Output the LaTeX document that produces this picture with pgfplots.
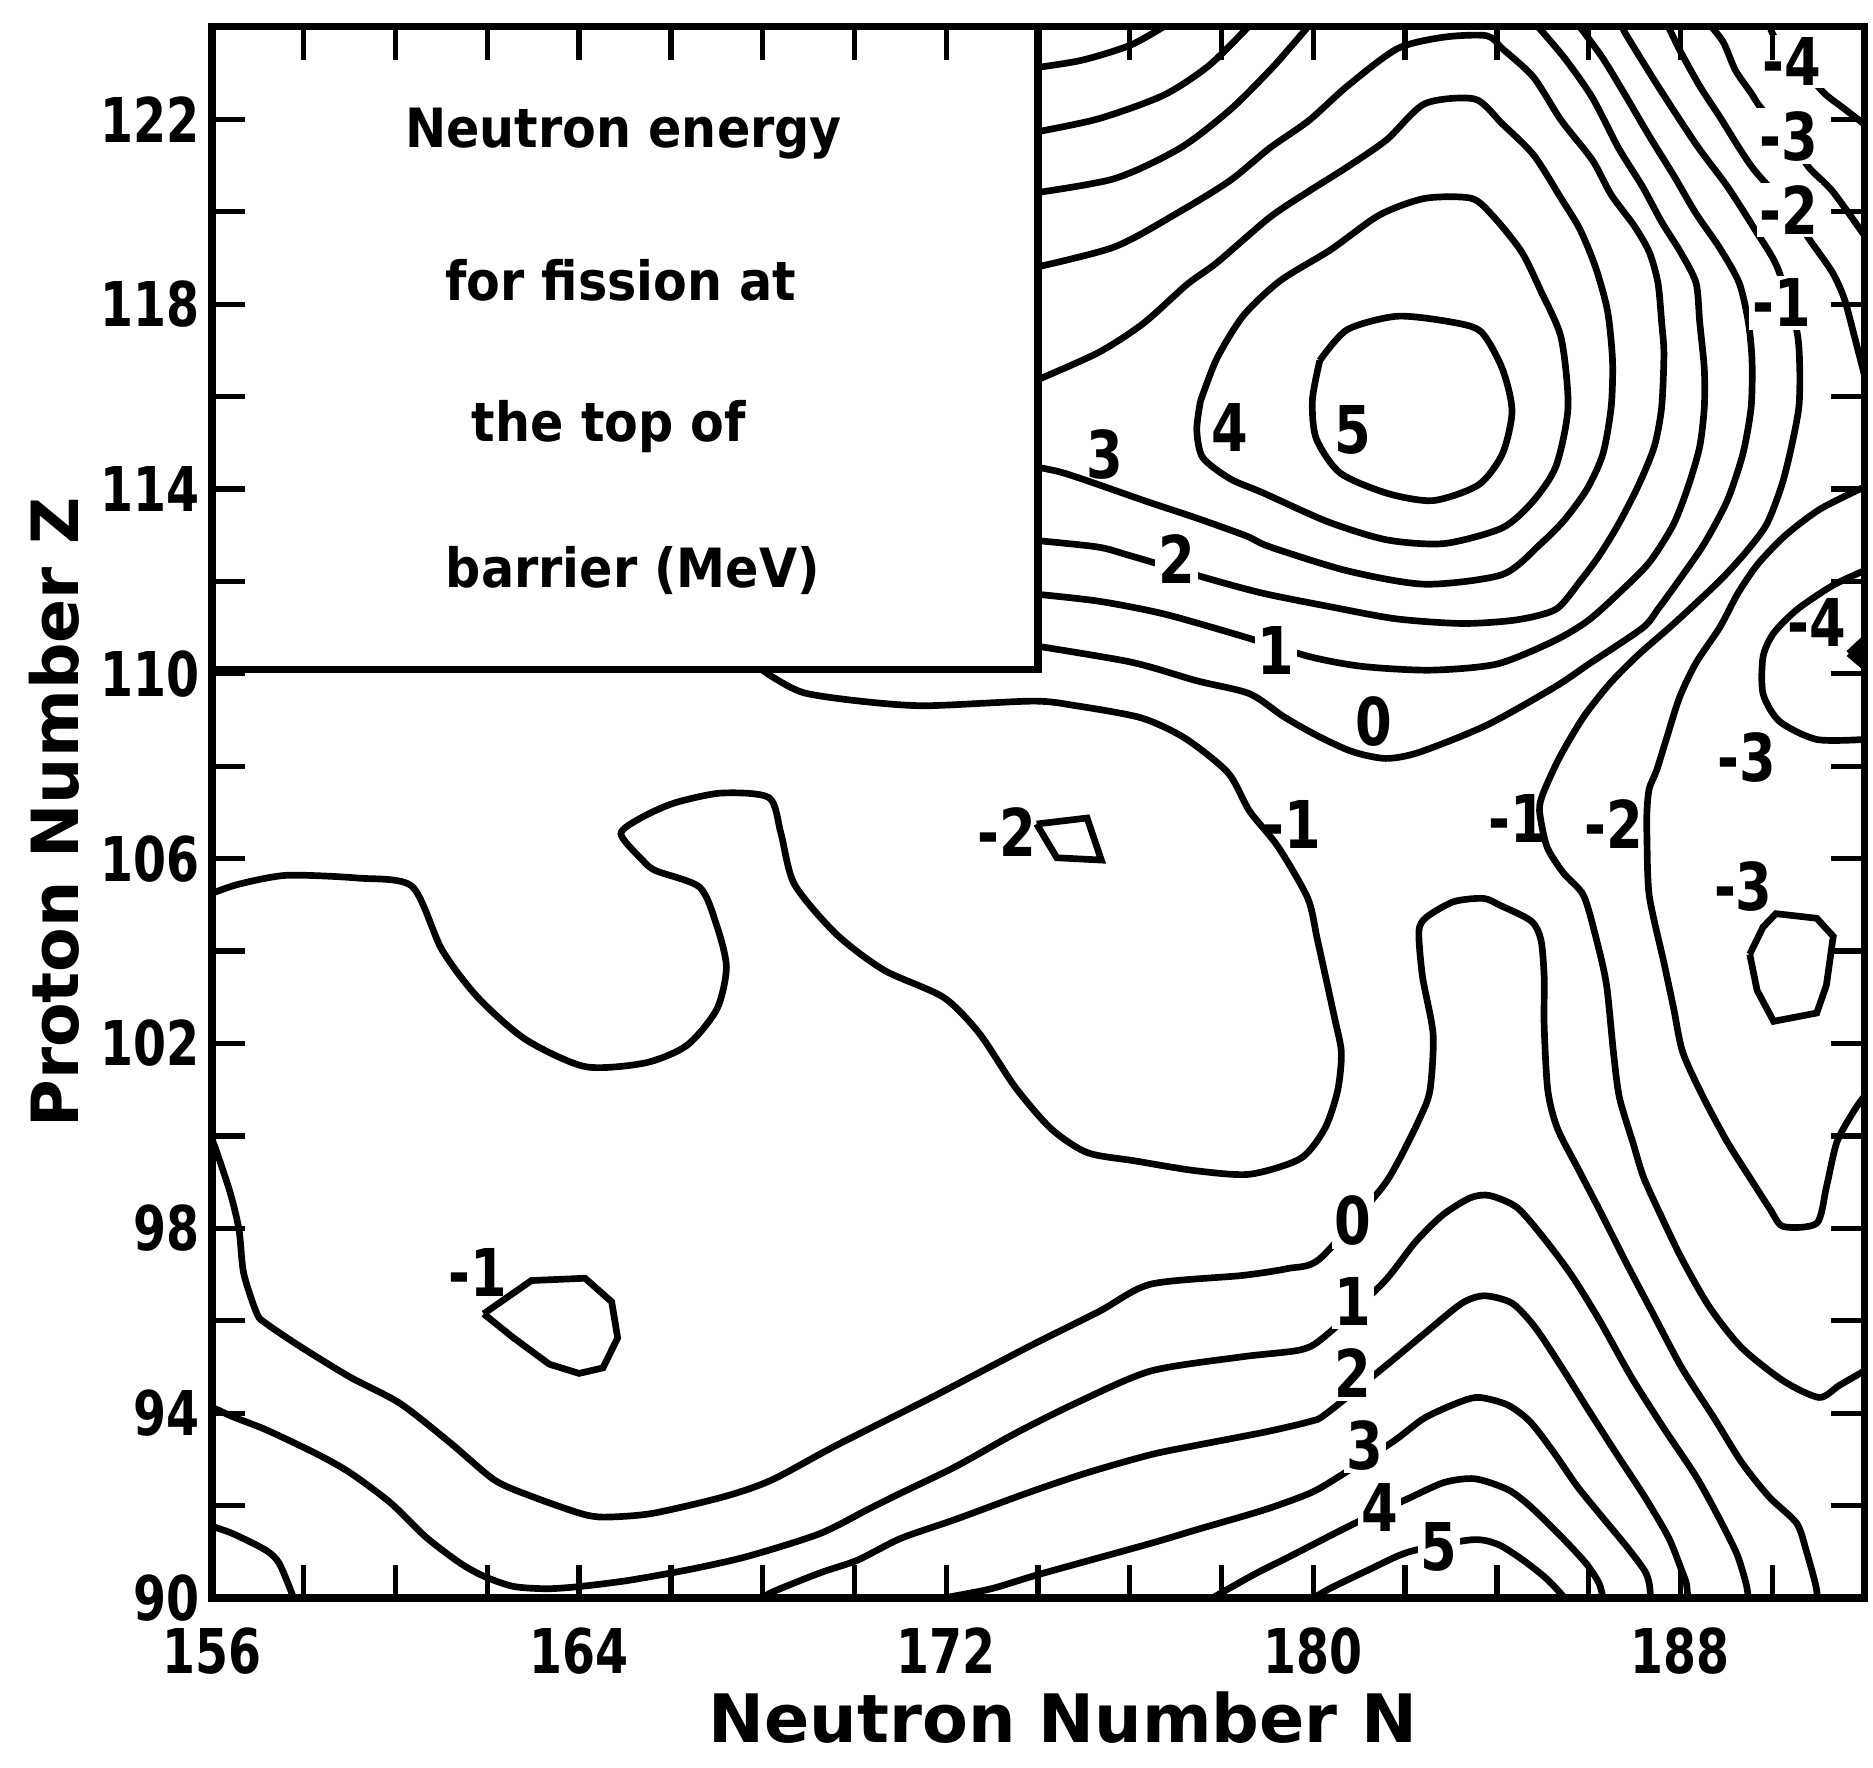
\documentclass[border=0pt]{standalone}
\usepackage{fontspec}
\setmainfont{DejaVu Sans}
\usepackage{graphicx}
\usepackage{pgfplots}
\pgfplotsset{compat=1.18}
\newcommand{\sy}[1]{\scalebox{1}[1.25]{#1}}
\newcommand{\boxscale}[1]{\scalebox{1}[1.1]{#1}}
\tikzset{
  cl/.style={line width=1.9pt, black, smooth, tension=0.45},
  cs/.style={line width=1.9pt, black, sharp plot},
  lab/.style={font=\bfseries\fontsize{15}{15}\selectfont, inner sep=0.8pt},
  labw/.style={lab, fill=white},
  boxt/.style={font=\bfseries\fontsize{14}{14}\selectfont},
}
\begin{document}
\begin{tikzpicture}
\begin{axis}[
  scale only axis, width=16.52cm, height=15.71cm,
  xmin=156, xmax=192, ymin=90, ymax=124,
  axis on top,
  axis line style={line width=2pt},
  xtick={156,164,172,180,188},
  minor xtick={158,160,162,166,168,170,174,176,178,182,184,186,190},
  ytick={90,94,...,122},
  minor ytick={92,96,...,120},
  major tick length=0.33cm, minor tick length=0.33cm,
  every tick/.style={line width=1.5pt, black},
  tick align=inside,
  xtick pos=both, ytick pos=both,
  xticklabel pos=lower, yticklabel pos=left,
  ticklabel style={font=\bfseries\fontsize{13.5}{13.5}\selectfont},
  xticklabel={\scalebox{1}[1.3]{\pgfmathprintnumber{\tick}}},
  yticklabel={\scalebox{1}[1.3]{\pgfmathprintnumber{\tick}}},
  xticklabel style={yshift=-0.17cm},
  /pgf/number format/assume math mode=true,
  xlabel={Neutron Number N},
  ylabel={Proton Number Z},
  xlabel style={font=\bfseries\fontsize{19}{19}\selectfont, at={(axis description cs:0.515,0)}, anchor=center, yshift=-1.2cm},
  ylabel style={font=\bfseries\fontsize{18.5}{18.5}\selectfont, at={(axis description cs:-0.0956,0.5)}, anchor=center},
]
% ---- peak family (top right) ----
\addplot[cl] coordinates {(180.14,116.78) (180.74,117.45) (181.83,117.74) (183.03,117.61) (183.66,117.40) (184.12,116.60) (184.33,115.69) (184.12,114.76) (183.60,114.09) (182.61,113.75) (181.60,113.91) (180.58,114.35) (180.06,115.10) (179.98,115.93) (180.14,116.78)};
\addplot[cl] coordinates {(177.54,115.90) (177.90,116.83) (178.48,117.76) (179.28,118.51) (180.38,119.18) (181.44,119.93) (182.43,120.29) (183.45,120.29) (183.94,119.88) (184.54,119.13) (184.96,118.28) (185.40,117.27) (185.55,115.77) (185.29,114.50) (184.80,113.75) (184.12,113.16) (182.85,112.82) (181.60,112.90) (180.32,113.29) (178.92,113.91) (178.19,114.22) (177.59,114.68) (177.46,115.28) (177.54,115.90)};
\addplot[cl] coordinates {(173.6,114.53) (174.55,114.35) (176.37,113.73) (177.46,113.37) (178.55,112.98) (179.05,112.75) (180.74,112.23) (182.43,111.94) (184.12,112.15) (184.96,112.82) (185.48,113.34) (185.97,114.01) (186.31,114.76) (186.49,115.77) (186.52,116.78) (186.41,117.86) (186.15,118.80) (185.81,119.62) (185.40,120.29) (184.80,121.23) (184.12,121.90) (183.52,122.44) (182.43,122.34) (181.60,121.56) (180.74,120.97) (179.91,120.45) (179.05,119.88) (177.90,118.90) (177.25,118.43) (176.29,117.58) (175.27,116.93) (173.6,116.2)};
\addplot[cl] coordinates {(173.6,112.92) (175.27,112.75) (176.00,112.56) (177.75,112.05) (178.92,111.74) (180.38,111.45) (181.81,111.19) (183.26,111.09) (184.44,111.17) (185.29,111.40) (185.81,112.00) (186.23,112.56) (186.65,113.24) (187.09,114.09) (187.43,114.92) (187.59,115.77) (187.64,116.93) (187.59,117.61) (187.51,118.46) (187.32,119.13) (186.99,119.70) (186.49,120.37) (186.08,121.12) (185.40,121.98) (184.80,122.91) (184.12,123.53) (183.78,123.81) (182.85,123.78) (181.83,123.53) (180.74,122.72) (179.91,121.98) (179.05,121.38) (178.19,120.68) (177.10,120.01) (175.64,119.23) (173.6,118.72)};
\addplot[cl] coordinates {(173.6,111.76) (175.27,111.58) (176.73,111.30) (178.40,110.83) (179.93,110.37) (181.08,110.16) (182.54,110.08) (183.99,110.21) (185.22,110.70) (185.97,111.14) (186.65,111.74) (187.32,112.41) (187.85,113.24) (188.18,114.09) (188.42,114.92) (188.52,115.77) (188.52,116.60) (188.42,117.61) (188.34,118.46) (188.00,119.13) (187.59,119.78) (187.17,120.55) (186.65,121.38) (186.08,122.47) (185.48,123.32) (184.90,124.0)};
\addplot[cl] coordinates {(173.6,120.36) (175.64,120.71) (177.10,121.38) (178.19,122.21) (179.05,123.06) (179.49,123.55) (179.88,124.0)};
\addplot[cl] coordinates {(173.6,110.66) (176.00,110.26) (177.46,109.85) (178.61,109.57) (179.36,109.07) (180.09,108.66) (180.84,108.32) (181.57,108.17) (182.30,108.30) (183.78,108.89) (185.27,109.72) (186.00,110.21) (187.17,110.99) (187.51,111.40) (188.00,112.07) (188.52,112.82) (189.02,113.75) (189.36,114.76) (189.54,115.77) (189.56,116.78) (189.48,117.61) (189.28,118.46) (188.86,119.21) (188.34,119.96) (187.85,120.79) (187.32,121.64) (186.83,122.47) (186.31,123.32) (185.81,124.0)};
\addplot[cl] coordinates {(173.6,121.66) (175.27,122.00) (176.73,122.52) (177.72,123.16) (178.58,124.0)};
\addplot[cl] coordinates {(173.6,123.07) (174.91,123.27) (176.00,123.60) (176.73,124.0)};
% ---- negative contours, right side ----
\addplot[cl] coordinates {(186.73,124.0) (186.83,123.81) (187.51,122.72) (188.34,121.46) (189.02,120.55) (189.62,119.62) (190.11,118.80) (190.53,117.45) (190.60,116.60) (190.58,115.77) (190.42,114.92) (190.21,114.09) (189.88,113.24) (189.43,112.64) (188.91,112.07) (188.34,111.53) (187.77,111.01) (187.09,110.42) (186.47,109.80) (185.89,109.07) (185.37,108.20) (185.01,107.42) (184.93,107.03) (185.09,106.26) (185.45,105.69) (185.89,105.20) (186.18,104.21) (186.39,103.26) (186.54,101.81) (186.67,100.83) (186.96,99.87) (187.19,99.12) (187.53,98.37) (188.03,97.34) (188.63,96.30) (189.33,95.42) (190.24,94.70) (191.02,94.34) (191.46,94.60) (192.0,94.91)};
\addplot[cl] coordinates {(187.74,124.0) (188.00,123.47) (188.42,122.72) (188.86,122.05) (189.28,121.38) (189.62,120.89) (190.37,120.04) (190.84,119.36) (191.31,118.69) (191.57,118.12) (191.80,117.27) (192.0,116.5)};
\addplot[cl] coordinates {(188.68,124.0) (188.94,123.66) (189.20,123.06) (189.54,122.57) (189.77,122.23) (190.37,121.64) (190.79,120.97) (191.31,120.45) (192.0,119.5)};
\addplot[cl] coordinates {(189.95,124.0) (190.03,123.81) (190.21,123.55) (190.63,123.14) (191.13,122.57) (191.57,122.23) (192.0,121.9)};
\addplot[cl] coordinates {(192.0,114.04) (191.05,113.57) (190.29,113.00) (189.69,112.38) (189.25,111.74) (188.86,111.01) (188.34,110.24) (187.98,109.49) (187.69,108.58) (187.48,107.91) (187.32,107.52) (187.27,107.03) (187.27,106.46) (187.32,105.20) (187.64,103.75) (187.85,102.77) (188.05,101.81) (188.50,100.83) (189.02,99.87) (189.51,99.10) (189.95,98.42) (190.24,98.04) (190.97,98.11) (191.18,98.89) (191.41,99.87) (191.78,100.54) (192.0,100.85)};
\addplot[cl] coordinates {(192.0,112.23) (191.33,111.92) (190.55,111.40) (190.03,110.88) (189.80,110.37) (189.80,109.57) (190.16,108.97) (190.97,108.58) (192.0,108.58)};
\addplot[cs, fill=black] coordinates {(191.67,110.44) (192.0,110.75) (192.0,110.16) (191.67,110.44)};
\addplot[cs] coordinates {(189.51,103.93) (189.80,104.52) (190.08,104.81) (190.97,104.71) (191.33,104.32) (191.18,103.26) (190.97,102.66) (190.03,102.48) (189.67,103.15) (189.51,103.93)};
% ---- middle: -1 and -2 ----
\addplot[cl] coordinates {(167.7,110.3) (168.22,109.93) (168.90,109.59) (170.12,109.41) (171.53,109.31) (173.89,109.41) (174.83,109.31) (176.24,109.05) (177.20,108.61) (178.14,107.86) (178.61,107.03) (179.23,106.26) (179.88,105.14) (180.09,104.24) (180.45,102.61) (180.61,101.81) (180.53,100.98) (180.25,100.16) (179.72,99.51) (178.61,99.17) (177.41,99.25) (176.11,99.46) (175.07,99.64) (174.28,100.16) (173.50,101.06) (172.72,102.22) (171.94,103.00) (170.64,103.59) (169.60,104.37) (168.69,105.45) (168.40,106.54) (168.14,107.32) (167.10,107.42) (166.09,107.21) (165.38,106.90) (164.91,106.54) (165.38,105.97) (165.67,105.74) (166.63,105.38) (167.00,104.55) (167.21,103.65) (167.00,102.74) (166.35,101.96) (165.44,101.58) (164.13,101.50) (162.83,102.09) (161.79,103.00) (161.01,104.03) (160.36,105.40) (159.19,105.58) (157.63,105.64) (156.59,105.45) (156.0,105.25)};
\addplot[cs] coordinates {(173.97,106.75) (175.07,106.88) (175.38,105.97) (174.41,106.02) (173.97,106.75)};
% ---- lower family ----
\addplot[cl] coordinates {(156.0,99.92) (156.09,99.69) (156.40,98.76) (156.59,97.96) (156.69,97.03) (156.98,96.15) (157.18,95.94) (157.91,95.45) (159.01,94.78) (160.10,94.21) (161.19,93.36) (162.16,92.55) (162.99,92.19) (164.03,91.83) (164.55,91.75) (165.59,91.83) (167.15,92.19) (168.19,92.55) (169.60,93.30) (171.68,94.34) (173.76,95.42) (175.33,96.20) (176.45,96.79) (178.45,96.98) (179.44,97.13) (180.14,97.34) (181.44,98.81) (181.83,99.41) (182.30,100.34) (182.54,100.98) (182.61,102.20) (182.38,103.44) (182.30,104.42) (182.46,104.73) (183.06,105.07) (183.71,105.14) (184.07,104.99) (184.75,104.65) (184.96,104.24) (185.03,103.44) (185.03,102.38) (185.11,100.98) (185.32,100.16) (185.79,99.25) (186.26,98.35) (186.83,97.23) (187.43,96.10) (188.03,94.98) (188.73,93.90) (189.33,92.94) (189.93,92.19) (190.53,91.62) (190.74,91.03) (190.94,90.31) (190.99,90.0)};
\addplot[cl] coordinates {(156.0,94.13) (156.46,93.92) (157.18,93.64) (158.28,93.12) (159.01,92.71) (159.89,92.06) (160.67,91.31) (161.43,90.74) (161.95,90.46) (162.57,90.25) (163.30,90.20) (164.03,90.25) (165.07,90.38) (166.42,90.62) (167.67,90.90) (169.24,91.39) (170.28,91.91) (171.01,92.27) (172.20,92.84) (173.50,93.56) (174.81,94.21) (176.45,94.91) (178.45,95.22) (179.72,95.37) (180.25,95.66) (181.52,96.82) (182.22,97.70) (182.82,98.29) (183.42,98.66) (183.84,98.71) (184.44,98.45) (185.03,97.78) (185.63,96.98) (186.23,96.02) (186.93,94.78) (187.64,93.67) (188.34,92.63) (188.83,91.75) (189.23,90.95) (189.43,90.31) (189.48,90.0)};
\addplot[cl] coordinates {(168.04,90.0) (168.19,90.12) (169.24,90.54) (170.07,90.82) (171.01,91.29) (172.20,91.70) (173.76,92.27) (175.07,92.71) (176.45,93.10) (177.43,93.30) (178.94,93.59) (179.93,93.82) (180.27,93.98) (181.62,95.06) (182.43,95.73) (183.24,96.38) (183.73,96.54) (184.33,96.38) (184.83,95.86) (185.42,94.98) (186.02,94.03) (186.62,93.10) (187.22,92.19) (187.74,91.31) (188.03,90.59) (188.13,90.31) (188.16,90.0)};
\addplot[cl] coordinates {(171.94,90.0) (172.98,90.20) (174.02,90.51) (176.45,91.18) (177.43,91.47) (178.94,91.91) (179.93,92.27) (180.53,92.61) (181.73,93.38) (182.43,93.90) (183.24,94.26) (183.63,94.34) (184.23,94.18) (184.72,93.82) (185.24,93.15) (185.74,92.43) (186.23,91.83) (186.83,91.11) (187.22,90.59) (187.32,90.31) (187.35,90.0)};
\addplot[cl] coordinates {(177.80,90.0) (178.71,90.51) (179.49,90.90) (180.87,91.60) (182.04,92.14) (182.85,92.50) (183.52,92.58) (184.23,92.35) (184.72,91.99) (185.42,91.31) (185.95,90.74) (186.23,90.31) (186.31,90.0)};
\addplot[cl] coordinates {(180.01,90.0) (180.35,90.20) (181.23,90.62) (182.09,91.00) (183.45,91.26) (184.02,91.16) (184.57,90.82) (185.09,90.41) (185.48,90.0)};
\addplot[cl] coordinates {(156.0,91.55) (156.46,91.39) (157.18,91.03) (157.47,90.74) (157.78,90.0)};
\addplot[cs] coordinates {(161.92,96.15) (162.96,96.87) (164.13,96.92) (164.71,96.41) (164.84,95.63) (164.52,94.98) (164.00,94.86) (163.35,95.06) (162.57,95.63) (161.92,96.15)};
% ---- legend box ----
\fill[white] (axis cs:156,110.1) rectangle (axis cs:174,124);
\draw[line width=2pt] (axis cs:156,110.1) -- (axis cs:174,110.1) -- (axis cs:174,124);
\node[boxt] at (axis cs:164.97,121.69) {\boxscale{Neutron energy}};
\node[boxt] at (axis cs:164.91,118.51) {\boxscale{for fission at}};
\node[boxt] at (axis cs:164.65,115.36) {\boxscale{the top of}};
\node[boxt] at (axis cs:165.17,112.23) {\boxscale{barrier (MeV)}};
% ---- contour labels ----
\node[lab] at (axis cs:180.87,115.28) {\sy{5}};
\node[lab] at (axis cs:178.19,115.33) {\sy{4}};
\node[lab] at (axis cs:175.46,114.75) {\sy{3}};
\node[labw] at (axis cs:177.02,112.49) {\sy{2}};
\node[labw] at (axis cs:179.18,110.50) {\sy{1}};
\node[lab] at (axis cs:181.31,108.97) {\sy{0}};
\node[labw] at (axis cs:190.42,123.25) {\sy{-4}};
\node[labw] at (axis cs:190.37,121.64) {\sy{-3}};
\node[labw] at (axis cs:190.37,120.04) {\sy{-2}};
\node[labw] at (axis cs:190.20,118.03) {\sy{-1}};
\node[lab] at (axis cs:190.97,111.11) {\sy{-4}};
\node[lab] at (axis cs:189.44,108.20) {\sy{-3}};
\node[lab] at (axis cs:189.37,105.39) {\sy{-3}};
\node[lab] at (axis cs:186.54,106.75) {\sy{-2}};
\node[lab] at (axis cs:184.45,106.86) {\sy{-1}};
\node[lab] at (axis cs:179.54,106.75) {\sy{-1}};
\node[lab] at (axis cs:173.32,106.57) {\sy{-2}};
\node[lab] at (axis cs:161.79,97.05) {\sy{-1}};
\node[labw] at (axis cs:180.87,98.16) {\sy{0}};
\node[labw] at (axis cs:180.87,96.41) {\sy{1}};
\node[labw] at (axis cs:180.87,94.86) {\sy{2}};
\node[labw] at (axis cs:181.13,93.30) {\sy{3}};
\node[labw] at (axis cs:181.44,91.96) {\sy{4}};
\node[labw] at (axis cs:182.74,91.11) {\sy{5}};
\end{axis}
\pgfresetboundingbox
\path[use as bounding box] ([shift={(-2.12cm,-1.70cm)}]current axis.south west) rectangle ([shift={(0.09cm,0.27cm)}]current axis.north east);
\end{tikzpicture}
\end{document}
